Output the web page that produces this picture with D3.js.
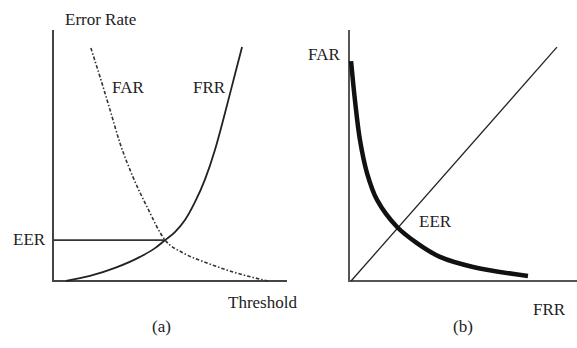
<!DOCTYPE html>
<html>
<head>
<meta charset="utf-8">
<script src="https://cdn.jsdelivr.net/npm/d3@7"></script>
<style>
  body { margin: 0; background: #fff; }
</style>
</head>
<body>
<div id="chart"></div>
<script>
// panel (a): error rate vs threshold (both 0..100)
var frrThreshold = [5.6, 15.8, 26.5, 37.2, 43.6, 47.9, 52.1, 56.4, 60.7, 65.0, 69.2, 73.5, 77.8, 80.8];
var frrValues    = [0, 2.0, 5.2, 9.6, 13.1, 16.3, 19.5, 24.3, 31.5, 40.6, 52.2, 66.9, 82.5, 93.2];
var farThreshold = [16.2, 20.1, 24.4, 28.6, 34.2, 40.2, 47.9, 55.6, 65.8, 76.9, 91.9];
var farValues    = [92.8, 81.3, 68.1, 55.0, 41.4, 29.5, 16.3, 11.2, 7.2, 3.6, 0];
var eerThreshold = 47.9, eerValue = 16.3;

// panel (b): FAR vs FRR
var detFRR = [0.9, 2.6, 4.8, 7.9, 12.3, 21.1, 29.8, 39.9, 54.4, 78.5];
var detFAR = [87.6, 72.1, 56.2, 43.0, 32.3, 21.5, 15.1, 9.6, 5.6, 2.0];
var diagFRR = [0.9, 91.2];
var diagFAR = [0, 93.2];

var width = 577, height = 348;
var ink = "#222";

var svg = d3.select("#chart").append("svg")
    .attr("width", width)
    .attr("height", height)
    .attr("font-family", "'Liberation Serif', 'Times New Roman', Times, serif")
    .attr("font-size", 17)
    .attr("fill", ink);

// ---- panel (a)
var xa = d3.scaleLinear().domain([0, 100]).range([53, 287]);
var ya = d3.scaleLinear().domain([0, 100]).range([281, 30]);

var line = d3.line().curve(d3.curveMonotoneX);
var lineB = d3.line().curve(d3.curveCatmullRom.alpha(0.5));

svg.append("line")
    .attr("x1", xa(0)).attr("x2", xa(0))
    .attr("y1", ya(0) + 1).attr("y2", ya(100))
    .attr("stroke", "#444").attr("stroke-width", 2);
svg.append("line")
    .attr("x1", xa(0) - 1).attr("x2", xa(100))
    .attr("y1", ya(0)).attr("y2", ya(0))
    .attr("stroke", "#444").attr("stroke-width", 2);

// EER guide
svg.append("line")
    .attr("x1", xa(0)).attr("x2", xa(eerThreshold))
    .attr("y1", ya(eerValue)).attr("y2", ya(eerValue))
    .attr("stroke", "#333").attr("stroke-width", 1.8);

svg.append("path")
    .attr("d", line(frrThreshold.map(function(t, i) { return [xa(t), ya(frrValues[i])]; })))
    .attr("fill", "none").attr("stroke", ink).attr("stroke-width", 1.8);

svg.append("path")
    .attr("d", line(farThreshold.map(function(t, i) { return [xa(t), ya(farValues[i])]; })))
    .attr("fill", "none").attr("stroke", "#333").attr("stroke-width", 1.6)
    .attr("stroke-dasharray", "3.5,2,1.5,2");

svg.append("text").attr("x", 65).attr("y", 25).text("Error Rate");
svg.append("text").attr("x", 112).attr("y", 93).text("FAR");
svg.append("text").attr("x", 193).attr("y", 93).text("FRR");
svg.append("text").attr("x", 13).attr("y", 245).text("EER");
svg.append("text").attr("x", 228).attr("y", 308).text("Threshold");
svg.append("text").attr("x", 152).attr("y", 332).text("(a)");

// ---- panel (b)
var xb = d3.scaleLinear().domain([0, 100]).range([349, 577]);
var yb = d3.scaleLinear().domain([0, 100]).range([281, 30]);

svg.append("line")
    .attr("x1", xb(0)).attr("x2", xb(0))
    .attr("y1", yb(0) + 1).attr("y2", yb(100))
    .attr("stroke", "#555").attr("stroke-width", 2);
svg.append("line")
    .attr("x1", xb(0) - 1).attr("x2", xb(100))
    .attr("y1", yb(0)).attr("y2", yb(0))
    .attr("stroke", "#555").attr("stroke-width", 2);

svg.append("line")
    .attr("x1", xb(diagFRR[0])).attr("y1", yb(diagFAR[0]))
    .attr("x2", xb(diagFRR[1])).attr("y2", yb(diagFAR[1]))
    .attr("stroke", ink).attr("stroke-width", 1.3);

svg.append("path")
    .attr("d", lineB(detFRR.map(function(f, i) { return [xb(f), yb(detFAR[i])]; })))
    .attr("fill", "none").attr("stroke", "#111").attr("stroke-width", 4.5);

svg.append("text").attr("x", 308).attr("y", 60).text("FAR");
svg.append("text").attr("x", 419).attr("y", 227).text("EER");
svg.append("text").attr("x", 533).attr("y", 315).text("FRR");
svg.append("text").attr("x", 453).attr("y", 332).text("(b)");
</script>
</body>
</html>
